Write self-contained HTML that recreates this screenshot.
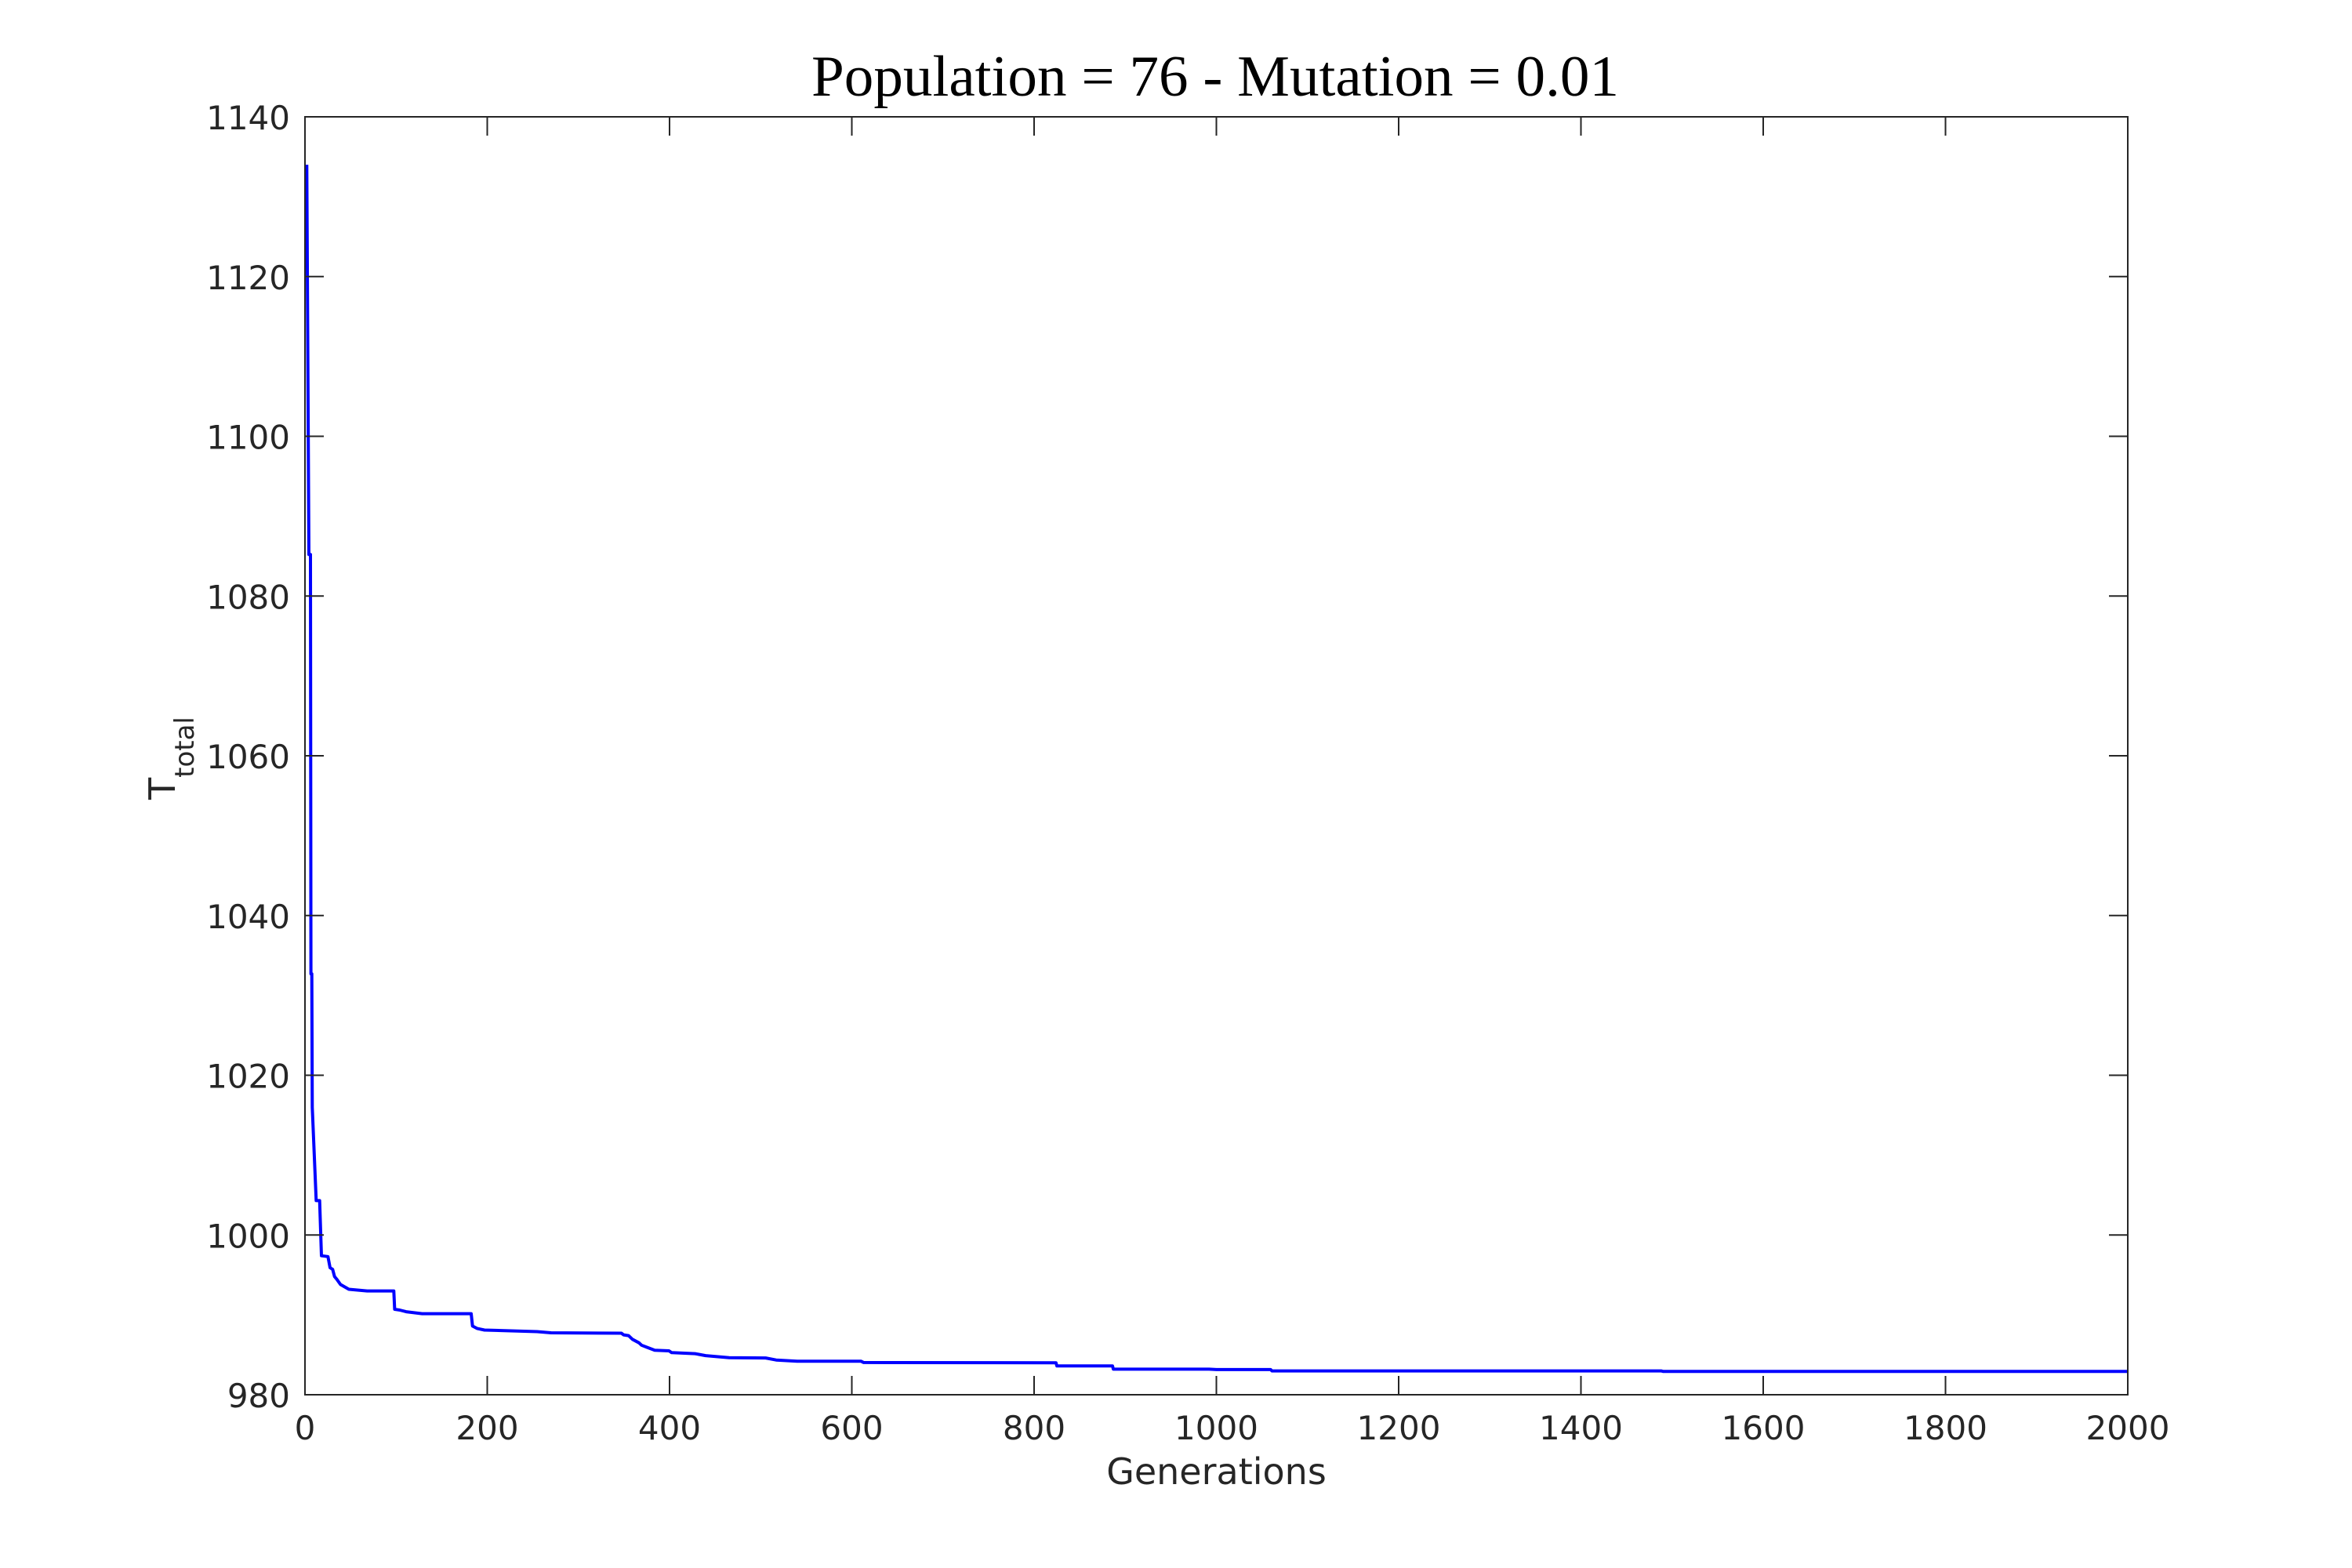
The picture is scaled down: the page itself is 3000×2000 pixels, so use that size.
<!DOCTYPE html>
<html>
<head>
<meta charset="utf-8">
<style>
  html, body { margin: 0; padding: 0; background: #ffffff; }
  svg { display: block; }
  .tick { font-family: "DejaVu Sans", "Liberation Sans", sans-serif; font-size: 42px; fill: #262626; }
  .lbl { font-family: "DejaVu Sans", "Liberation Sans", sans-serif; font-size: 46px; fill: #262626; }
</style>
</head>
<body>
<svg width="3000" height="2000" viewBox="0 0 3000 2000" xmlns="http://www.w3.org/2000/svg">
  <rect x="0" y="0" width="3000" height="2000" fill="#ffffff"/>

  <!-- Title -->
  <text x="1550" y="122" text-anchor="middle" font-family="'Liberation Serif', 'DejaVu Serif', serif" font-size="74" fill="#000000" textLength="1030" lengthAdjust="spacingAndGlyphs">Population = 76 - Mutation = 0.01</text>

  <!-- Data line -->
  <polyline fill="none" stroke="#0000ff" stroke-width="4" stroke-linejoin="round" stroke-linecap="butt"
    points="391.3,210.1 394.0,707.3 396.0,707.3 396.6,1242.1 397.7,1242.1 398.3,1412.3 403.3,1531.4 407.7,1531.4 410.0,1601.7 418.3,1602.8 421.0,1617.0 424.3,1619.1 426.7,1628.2 430.0,1632.3 434.3,1638.4 445.0,1644.5 468.3,1646.6 502.3,1646.6 503.4,1670.0 509.9,1671.0 518.0,1673.1 538.4,1675.6 601.0,1675.6 602.7,1691.4 608.4,1694.4 618.0,1696.5 685.0,1698.5 702.9,1700.0 792.6,1700.5 795.3,1702.6 801.7,1703.6 806.7,1708.3 815.1,1712.8 818.3,1715.8 824.9,1718.4 835.1,1722.3 853.3,1723.0 856.7,1725.3 886.6,1726.6 900.0,1729.1 930.0,1731.7 976.6,1732.1 990.0,1734.7 1016.8,1736.2 1098.1,1736.2 1101.6,1737.9 1346.9,1738.2 1348.1,1742.3 1419.0,1742.3 1420.1,1746.4 1542.2,1746.4 1551.5,1746.9 1620.7,1746.9 1622.4,1748.6 2118.8,1748.6 2121.1,1749.2 2714,1749.2"/>

  <!-- Axes box -->
  <rect x="389" y="149" width="2325" height="1630" fill="none" stroke="#262626" stroke-width="2"/>

  <!-- X ticks (bottom and top) -->
  <g stroke="#262626" stroke-width="2">
    <line x1="621.5" y1="1779" x2="621.5" y2="1755"/><line x1="621.5" y1="149" x2="621.5" y2="173"/>
    <line x1="854" y1="1779" x2="854" y2="1755"/><line x1="854" y1="149" x2="854" y2="173"/>
    <line x1="1086.5" y1="1779" x2="1086.5" y2="1755"/><line x1="1086.5" y1="149" x2="1086.5" y2="173"/>
    <line x1="1319" y1="1779" x2="1319" y2="1755"/><line x1="1319" y1="149" x2="1319" y2="173"/>
    <line x1="1551.5" y1="1779" x2="1551.5" y2="1755"/><line x1="1551.5" y1="149" x2="1551.5" y2="173"/>
    <line x1="1784" y1="1779" x2="1784" y2="1755"/><line x1="1784" y1="149" x2="1784" y2="173"/>
    <line x1="2016.5" y1="1779" x2="2016.5" y2="1755"/><line x1="2016.5" y1="149" x2="2016.5" y2="173"/>
    <line x1="2249" y1="1779" x2="2249" y2="1755"/><line x1="2249" y1="149" x2="2249" y2="173"/>
    <line x1="2481.5" y1="1779" x2="2481.5" y2="1755"/><line x1="2481.5" y1="149" x2="2481.5" y2="173"/>
  </g>

  <!-- Y ticks (left and right) -->
  <g stroke="#262626" stroke-width="2">
    <line x1="389" y1="1575.25" x2="413" y2="1575.25"/><line x1="2714" y1="1575.25" x2="2690" y2="1575.25"/>
    <line x1="389" y1="1371.5" x2="413" y2="1371.5"/><line x1="2714" y1="1371.5" x2="2690" y2="1371.5"/>
    <line x1="389" y1="1167.75" x2="413" y2="1167.75"/><line x1="2714" y1="1167.75" x2="2690" y2="1167.75"/>
    <line x1="389" y1="964" x2="413" y2="964"/><line x1="2714" y1="964" x2="2690" y2="964"/>
    <line x1="389" y1="760.25" x2="413" y2="760.25"/><line x1="2714" y1="760.25" x2="2690" y2="760.25"/>
    <line x1="389" y1="556.5" x2="413" y2="556.5"/><line x1="2714" y1="556.5" x2="2690" y2="556.5"/>
    <line x1="389" y1="352.75" x2="413" y2="352.75"/><line x1="2714" y1="352.75" x2="2690" y2="352.75"/>
  </g>

  <!-- X tick labels -->
  <g class="tick" text-anchor="middle">
    <text x="389" y="1836">0</text>
    <text x="621.5" y="1836">200</text>
    <text x="854" y="1836">400</text>
    <text x="1086.5" y="1836">600</text>
    <text x="1319" y="1836">800</text>
    <text x="1551.5" y="1836">1000</text>
    <text x="1784" y="1836">1200</text>
    <text x="2016.5" y="1836">1400</text>
    <text x="2249" y="1836">1600</text>
    <text x="2481.5" y="1836">1800</text>
    <text x="2714" y="1836">2000</text>
  </g>

  <!-- Y tick labels -->
  <g class="tick" text-anchor="end">
    <text x="370" y="1795">980</text>
    <text x="370" y="1591.25">1000</text>
    <text x="370" y="1387.5">1020</text>
    <text x="370" y="1183.75">1040</text>
    <text x="370" y="980">1060</text>
    <text x="370" y="776.25">1080</text>
    <text x="370" y="572.5">1100</text>
    <text x="370" y="368.75">1120</text>
    <text x="370" y="165">1140</text>
  </g>

  <!-- X axis label -->
  <text class="lbl" x="1551.5" y="1893" text-anchor="middle">Generations</text>

  <!-- Y axis label -->
  <text class="lbl" transform="translate(223,1020) rotate(-90)" text-anchor="start">T<tspan dy="24" font-size="34">total</tspan></text>
</svg>
</body>
</html>
